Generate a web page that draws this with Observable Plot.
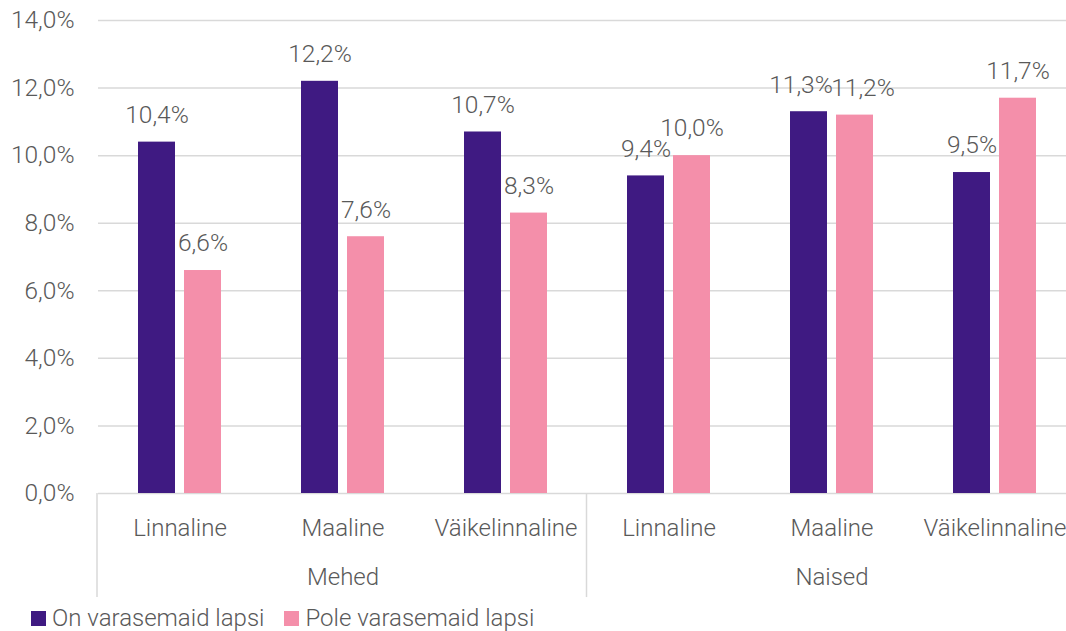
<!DOCTYPE html>
<html><head><meta charset="utf-8">
<script src="https://cdn.jsdelivr.net/npm/d3@7"></script>
<script src="https://cdn.jsdelivr.net/npm/@observablehq/plot@0.6"></script>
<style>
body{margin:0;overflow:hidden;background:#fff;font-family:Roboto,sans-serif;}
#chart{position:relative;width:1066px;height:631px;overflow:hidden;}
#legend{position:absolute;left:31px;top:604px;height:28px;line-height:28px;display:flex;align-items:center;font-family:Roboto,sans-serif;font-weight:300;font-size:24px;color:#595959;white-space:nowrap;}
#legend .item{display:flex;align-items:center;margin-right:20px;}
#legend .sw{width:15px;height:15px;margin-right:6px;}
</style></head><body><div id="chart"></div>
<script>
const groups = ["Mehed", "Naised"];
const categories = ["Linnaline", "Maaline", "Väikelinnaline"];
const series = ["On varasemaid lapsi", "Pole varasemaid lapsi"];
const onValues = [10.4, 12.2, 10.7, 9.4, 11.3, 9.5];
const poleValues = [6.6, 7.6, 8.3, 10.0, 11.2, 11.7];
const yTicks = [0, 2, 4, 6, 8, 10, 12, 14];
const colors = ["#3F1A82", "#F48FAA"];

const keys = [];
groups.forEach(g => categories.forEach(c => keys.push(g + "|" + c)));
const rows = [];
keys.forEach((k, i) => {
  const close = Math.abs(onValues[i] - poleValues[i]) < 0.5;
  rows.push({key: k, series: series[0], value: onValues[i], close});
  rows.push({key: k, series: series[1], value: poleValues[i], close});
});
const groupRows = groups.map(g => ({group: g, key: g + "|" + categories[1]}));
const fmt = v => v.toFixed(1).replace(".", ",") + "%";
const textColor = "#595959";
const fs = 24.5;
const fsCat = 24;

const plot = Plot.plot({
  width: 1076, height: 600,
  marginLeft: 97, marginRight: 0, marginTop: 20, marginBottom: 107,
  style: {fontFamily: "Roboto, sans-serif", fontSize: fs + "px", fontWeight: 300, color: textColor, overflow: "visible", background: "#fff", maxWidth: "none"},
  fx: {domain: keys, paddingInner: 0, paddingOuter: 0, label: null},
  x: {domain: series, paddingInner: 0.2, paddingOuter: 0.853, axis: null},
  y: {domain: [0, 14], label: null},
  color: {domain: series, range: colors},
  marks: [
    Plot.gridY(yTicks, {stroke: "#d9d9d9", strokeOpacity: 1, strokeWidth: 1.5}),
    Plot.axisY(yTicks, {tickSize: 0, tickPadding: 24, tickFormat: fmt, fontSize: fs, fill: textColor, label: null}),
    Plot.axisFx({anchor: "bottom", tickSize: 0, tickPadding: 25, tickFormat: k => k.split("|")[1], fontSize: fsCat, fill: textColor, label: null}),
    Plot.barY(rows, {fx: "key", x: "series", y: "value", fill: "series"}),
    Plot.text(rows.filter(d => !d.close), {fx: "key", x: "series", y: "value", text: d => fmt(d.value), dy: -27, fontSize: fs, fill: textColor}),
    Plot.text(rows.filter(d => d.close && d.series === series[0]), {fx: "key", x: "series", y: "value", text: d => fmt(d.value), dy: -27, dx: -8, fontSize: fs, fill: textColor}),
    Plot.text(rows.filter(d => d.close && d.series === series[1]), {fx: "key", x: "series", y: "value", text: d => fmt(d.value), dy: -27, dx: 8, fontSize: fs, fill: textColor}),
    Plot.text(groupRows, {fx: "key", text: "group", frameAnchor: "bottom", dy: 91, fontSize: fsCat, fill: textColor})
  ]
});
document.getElementById("chart").appendChild(plot);

// group separator lines below the axis, positioned with the plot's own scales
const fxS = plot.scale("fx");
const yS = plot.scale("y");
const fxBand = d3.scaleBand().domain(fxS.domain).range(fxS.range).paddingInner(0).paddingOuter(0);
const yLin = d3.scaleLinear().domain(yS.domain).range(yS.range);
const edges = [fxBand(keys[0]), fxBand(keys[3]), fxBand(keys[5]) + fxBand.bandwidth()];
d3.select(plot).append("g").selectAll("line").data(edges).join("line")
  .attr("x1", d => d).attr("x2", d => d)
  .attr("y1", yLin(0)).attr("y2", yLin(-3.08))
  .attr("stroke", "#d9d9d9").attr("stroke-width", 1.5);

const legend = document.createElement("div");
legend.id = "legend";
series.forEach((s, i) => {
  const item = document.createElement("div");
  item.className = "item";
  const sw = document.createElement("div");
  sw.className = "sw";
  sw.style.background = colors[i];
  const t = document.createElement("span");
  t.textContent = s;
  item.appendChild(sw); item.appendChild(t);
  legend.appendChild(item);
});
document.getElementById("chart").appendChild(legend);
</script></body></html>
